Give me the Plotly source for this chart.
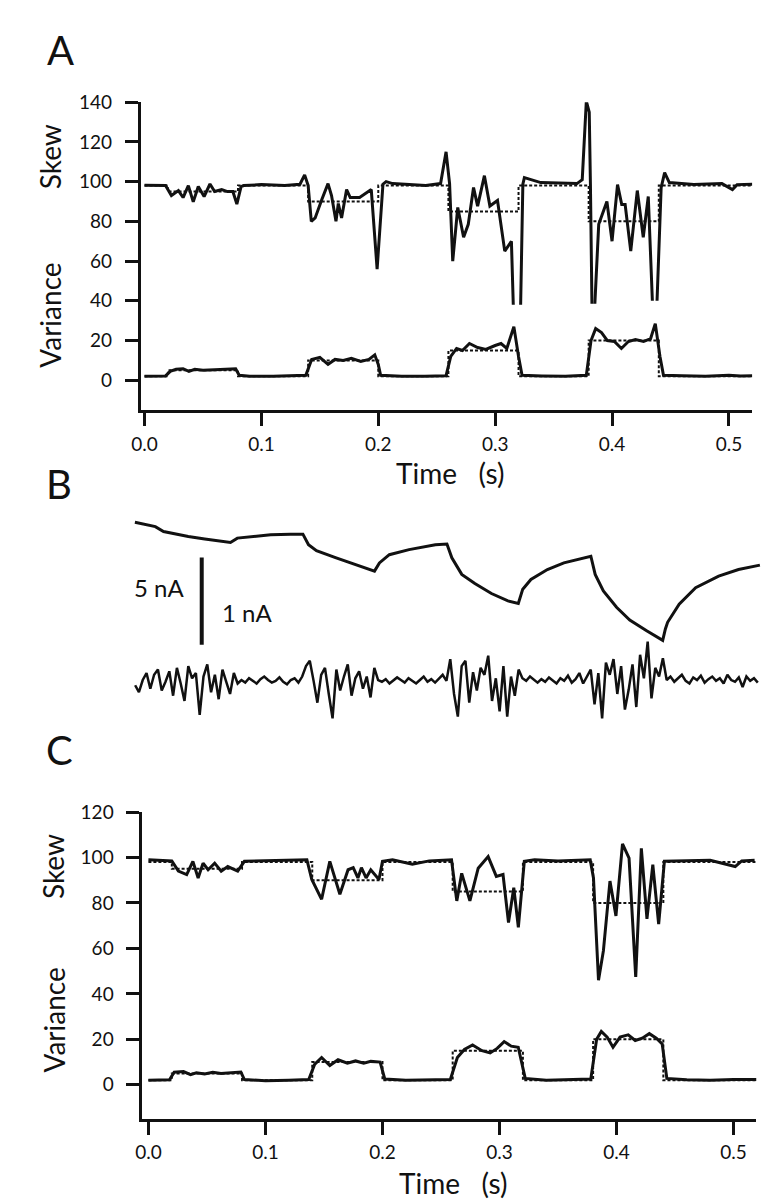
import plotly.graph_objects as go

# ---------------- data ----------------
# Panel A, skew (solid trace); None marks where the trace leaves the drawn range
a_skew_t = [0.0, 0.018, 0.023, 0.029, 0.033, 0.0375, 0.0417, 0.046, 0.051, 0.056, 0.060, 0.066, 0.071,
            0.0756, 0.079, 0.0826, 0.085, 0.1, 0.12, 0.133, 0.137, 0.14, 0.1427, 0.146, 0.1517, 0.157,
            0.16, 0.1638, 0.1658, 0.1686, 0.1729, 0.176, 0.184, 0.194, 0.199, 0.204, 0.2067, 0.2123,
            0.2406, 0.2533, 0.258, 0.261, 0.2637, 0.268, 0.273, 0.277, 0.2815, 0.285, 0.2908, 0.2955,
            0.302, 0.3082, 0.3139, 0.3155, 0.3185, 0.3218, 0.3237, 0.325, 0.339, 0.37, 0.3745, 0.378,
            0.3805, 0.3815, 0.3828, 0.384, 0.3853, 0.3886, 0.3956, 0.40, 0.4047, 0.4083, 0.4112, 0.416,
            0.4216, 0.4267, 0.431, 0.4345, 0.4365, 0.4385, 0.442, 0.445, 0.449, 0.47, 0.494, 0.503,
            0.507, 0.52]
a_skew_v = [98.2, 98, 93, 95.5, 92, 98, 89.8, 97.5, 92.5, 98.8, 95, 96, 95,
            95, 88.7, 97.5, 98, 98.5, 98, 98.7, 103.4, 98, 80, 81.7, 91, 99,
            93, 80, 89, 81.7, 96, 92, 92, 96, 56, 98.7, 100, 99,
            98, 99, 115, 99, 60, 87, 72, 78.5, 97, 87.7, 103, 87.7,
            90.5, 65, 70, 38, None, 38, 98.7, 102, 99.5, 99, 101, 140.5,
            135, 98.7, 38.5, None, 38.5, 78.5, 90, 70, 98.5, 88.5, 88.5, 65,
            95.5, 72, 92.5, 40, None, 40, 97, 104.5, 99.5, 98.5, 99, 96,
            98.5, 98.7]

# Panel A, variance (solid trace)
a_var_t = [0.0, 0.018, 0.022, 0.027, 0.033, 0.038, 0.043, 0.05, 0.06, 0.07, 0.078, 0.081, 0.09, 0.11,
           0.13, 0.138, 0.143, 0.15, 0.157, 0.163, 0.17, 0.177, 0.185, 0.192, 0.197, 0.2, 0.202, 0.22,
           0.24, 0.258, 0.262, 0.267, 0.272, 0.278, 0.285, 0.292, 0.3, 0.305, 0.31, 0.316, 0.32, 0.323,
           0.34, 0.36, 0.378, 0.382, 0.386, 0.391, 0.396, 0.402, 0.408, 0.414, 0.42, 0.427, 0.433,
           0.437, 0.441, 0.444, 0.46, 0.48, 0.5, 0.51, 0.52]
a_var_v = [2.0, 2.2, 4.5, 5.5, 5.8, 4.5, 5.5, 5.0, 5.3, 5.5, 5.8, 2.5, 2.0, 2.0,
           2.2, 2.5, 10.5, 11.5, 8.0, 10.5, 10.0, 11.0, 9.5, 10.5, 12.8, 8.0, 2.5, 2.0,
           2.0, 2.3, 12.0, 16.0, 15.0, 18.5, 16.5, 15.5, 17.5, 18.5, 16.0, 27.0, 12.0, 2.5,
           2.2, 2.0, 2.5, 20.0, 26.0, 24.0, 20.0, 19.5, 16.0, 19.5, 20.5, 19.5, 21.0,
           28.5, 12.0, 2.5, 2.3, 2.0, 2.5, 2.2, 2.3]

# Stimulus targets (dashed step lines), shared by A and C
step_t = [0.0, 0.02, 0.08, 0.14, 0.2, 0.26, 0.32, 0.38, 0.44, 0.52]
skew_target = [98, 95, 98, 90, 98, 85, 98, 80, 98, 98]
var_target = [2, 5, 2, 10, 2, 15, 2, 20, 2, 2]

# Panel C, skew
c_skew_t = [0.0, 0.02, 0.0256, 0.0327, 0.038, 0.0425, 0.0467, 0.051, 0.0566, 0.0622, 0.0678, 0.0763,
            0.082, 0.1, 0.12, 0.1354, 0.1396, 0.148, 0.155, 0.1636, 0.1706, 0.175, 0.179, 0.182, 0.186,
            0.19, 0.197, 0.2, 0.2086, 0.2255, 0.24, 0.259, 0.2635, 0.2677, 0.2747, 0.2818, 0.2903,
            0.2973, 0.303, 0.3077, 0.3122, 0.3161, 0.3212, 0.33, 0.35, 0.3775, 0.3803, 0.3846, 0.3888,
            0.3944, 0.3995, 0.4051, 0.4107, 0.4164, 0.4212, 0.426, 0.431, 0.436, 0.4409, 0.46, 0.48,
            0.5014, 0.507, 0.518]
c_skew_v = [99, 98.5, 94, 92.5, 98.3, 91, 97.5, 94.6, 97.5, 94, 96, 94,
            98.3, 98.5, 98.8, 99, 90.3, 81.6, 98.3, 83.8, 94.6, 95.5, 91, 95.5, 91,
            94.6, 90.3, 98.3, 99, 97, 98.5, 99, 80.9, 93, 80.9, 95.3, 100.4,
            91.7, 92.5, 71.4, 86.7, 69.3, 98.3, 99, 98.5, 99, 91, 46, 59,
            89.6, 74.3, 106, 99.7, 47.5, 104, 73, 96.8, 70.7, 98.3, 98.5, 98.8,
            96, 98.5, 98.8]

# Panel C, variance
c_var_t = [0.0, 0.018, 0.022, 0.03, 0.036, 0.041, 0.048, 0.055, 0.062, 0.07, 0.079, 0.082, 0.1, 0.12,
           0.137, 0.142, 0.148, 0.155, 0.162, 0.17, 0.177, 0.184, 0.19, 0.198, 0.202, 0.22, 0.24, 0.258,
           0.264, 0.27, 0.277, 0.285, 0.292, 0.298, 0.304, 0.31, 0.316, 0.322, 0.34, 0.36, 0.378,
           0.383, 0.387, 0.392, 0.397, 0.403, 0.41, 0.416, 0.422, 0.428, 0.434, 0.439, 0.443, 0.46,
           0.48, 0.5, 0.52]
c_var_v = [2.0, 2.2, 5.5, 5.8, 4.5, 5.3, 4.8, 5.5, 5.0, 5.3, 5.6, 2.3, 1.8, 2.0,
           2.3, 9.0, 12.0, 8.5, 11.0, 9.5, 10.5, 9.5, 10.3, 10.0, 2.5, 2.0, 2.2, 2.3,
           12.0, 15.5, 17.5, 15.0, 14.0, 16.0, 19.0, 17.0, 16.5, 2.8, 2.0, 2.2, 2.5,
           20.0, 23.5, 21.0, 16.5, 21.0, 22.0, 19.5, 20.5, 22.5, 20.5, 18.0, 2.8, 2.2,
           2.0, 2.3, 2.3]

# Panel B, membrane current (nA, relative) and injected noise (nA)
b_cur_t = [-0.0082, 0.0093, 0.0163, 0.0375, 0.0516, 0.0657, 0.0736, 0.0795, 0.0939, 0.108, 0.125,
           0.1356, 0.1404, 0.1472, 0.1641, 0.1785, 0.1926, 0.1969, 0.2011, 0.2096, 0.2265, 0.249,
           0.2589, 0.2631, 0.2716, 0.2828, 0.297, 0.3111, 0.32, 0.3238, 0.3308, 0.3449, 0.359,
           0.3821, 0.3858, 0.3928, 0.4041, 0.4154, 0.4295, 0.4436, 0.4459, 0.4478, 0.4577, 0.4718,
           0.4915, 0.5085, 0.5268]
b_cur_v = [-0.02, -0.27, -0.55, -0.84, -0.98, -1.12, -1.18, -0.93, -0.84, -0.74, -0.70,
           -0.70, -1.31, -1.65, -2.06, -2.40, -2.73, -2.82, -2.35, -1.88, -1.59, -1.31,
           -1.27, -2.06, -3.01, -3.54, -4.11, -4.53, -4.68, -3.86, -3.30, -2.73, -2.35,
           -1.97, -3.01, -3.96, -4.90, -5.63, -6.23, -6.80, -6.14, -5.76, -4.72, -3.77,
           -3.11, -2.73, -2.48]

noise_t0 = -0.008
noise_dt = 0.00325
noise_v = [0.00, -0.08, 0.06, 0.14, -0.04, 0.12, 0.18, -0.06, 0.04, 0.16,
           -0.12, 0.20, 0.02, -0.18, 0.22, 0.08, 0.14, -0.34, 0.10, 0.24,
           -0.08, 0.12, -0.16, 0.18, 0.04, -0.10, 0.14, 0.02, 0.06, 0.03,
           0.08, 0.05, 0.02, 0.07, 0.10, 0.06, 0.03, 0.05, 0.09, 0.04,
           0.01, 0.06, 0.08, 0.03, 0.10, 0.22, 0.28, 0.05, -0.20, 0.12,
           0.20, -0.10, -0.38, 0.18, -0.06, 0.10, 0.24, -0.12, 0.08, 0.16,
           -0.04, 0.10, -0.14, 0.20, 0.06, 0.04, 0.07, 0.02, 0.05, 0.09,
           0.06, 0.03, 0.08, 0.05, 0.02, 0.06, 0.10, 0.04, 0.07, 0.03,
           0.08, 0.12, 0.05, 0.30, -0.10, -0.36, 0.22, 0.28, -0.20, 0.15,
           -0.06, 0.20, 0.12, 0.34, -0.18, 0.08, -0.30, 0.22, -0.36, 0.10,
           -0.12, 0.18, 0.08, 0.05, 0.10, 0.06, 0.03, 0.07, 0.04, 0.09,
           0.06, 0.02, 0.08, 0.05, 0.11, 0.03, 0.07, 0.14, 0.02, 0.10,
           0.18, -0.22, 0.14, -0.38, 0.26, 0.12, 0.30, -0.10, 0.22, -0.28,
           -0.05, 0.24, -0.25, 0.35, 0.08, 0.50, -0.15, 0.20, 0.10, 0.31,
           0.06, 0.10, 0.04, 0.08, 0.12, 0.05, 0.02, 0.09, 0.06, 0.11,
           0.03, 0.07, 0.10, 0.05, 0.08, 0.02, 0.12, 0.06, 0.04, 0.09,
           -0.02, 0.10, 0.05, 0.08, 0.03]
noise_t = [noise_t0 + i * noise_dt for i in range(len(noise_v))]

# scale bar (drawn in noise units: 1 nA; 5 nA for the current trace)
scalebar_t = [0.049, 0.049]
scalebar_nA = [0.466, 1.466]

# axis ticks
time_ticks = [0.0, 0.1, 0.2, 0.3, 0.4, 0.5]
time_labels = ["0.0", "0.1", "0.2", "0.3", "0.4", "0.5"]
a_yticks = [0, 20, 40, 60, 80, 100, 120, 140]
c_yticks = [0, 20, 40, 60, 80, 100, 120]

# ---------------- layout helpers ----------------
W, H = 770, 1200
FONT = "Lato, 'Open Sans', sans-serif"
INK = "#111111"


def dx(a, b):
    return [a / W, b / W]


def dy(top, bottom):
    return [1 - bottom / H, 1 - top / H]


fig = go.Figure()

solid = dict(color=INK, width=3)
dotted = dict(color=INK, width=2, dash="3px,2px", shape="hv")

# Panel A
fig.add_trace(go.Scatter(x=step_t, y=skew_target, mode="lines", line=dotted, xaxis="x", yaxis="y"))
fig.add_trace(go.Scatter(x=step_t, y=var_target, mode="lines", line=dotted, xaxis="x", yaxis="y"))
fig.add_trace(go.Scatter(x=a_skew_t, y=a_skew_v, mode="lines", line=solid, connectgaps=False,
                         xaxis="x", yaxis="y"))
fig.add_trace(go.Scatter(x=a_var_t, y=a_var_v, mode="lines", line=solid, xaxis="x", yaxis="y"))

# Panel B
fig.add_trace(go.Scatter(x=b_cur_t, y=b_cur_v, mode="lines", line=dict(color=INK, width=3),
                         xaxis="x2", yaxis="y2"))
fig.add_trace(go.Scatter(x=noise_t, y=noise_v, mode="lines", line=dict(color=INK, width=2.5),
                         xaxis="x2", yaxis="y4"))
fig.add_trace(go.Scatter(x=scalebar_t, y=scalebar_nA, mode="lines", line=dict(color=INK, width=4),
                         xaxis="x2", yaxis="y4"))

# Panel C
fig.add_trace(go.Scatter(x=step_t, y=skew_target, mode="lines", line=dotted, xaxis="x3", yaxis="y3"))
fig.add_trace(go.Scatter(x=step_t, y=var_target, mode="lines", line=dotted, xaxis="x3", yaxis="y3"))
fig.add_trace(go.Scatter(x=c_skew_t, y=c_skew_v, mode="lines", line=solid, xaxis="x3", yaxis="y3"))
fig.add_trace(go.Scatter(x=c_var_t, y=c_var_v, mode="lines", line=solid, xaxis="x3", yaxis="y3"))

tickfont = dict(family=FONT, size=19, color=INK)
axis_common = dict(showline=True, linecolor=INK, linewidth=2.5, ticks="outside", ticklen=13,
                   tickwidth=2.5, tickcolor=INK, showgrid=False, zeroline=False, tickfont=tickfont)

fig.update_layout(
    width=W, height=H, margin=dict(l=0, r=0, t=0, b=0),
    paper_bgcolor="white", plot_bgcolor="white", showlegend=False,
    xaxis=dict(domain=dx(125, 744), range=[-0.0034, 0.52], tickvals=time_ticks, ticktext=time_labels,
               anchor="y", ticklabelstandoff=2, **axis_common),
    yaxis=dict(domain=dy(83, 394), range=[-15, 140], tickvals=a_yticks, anchor="x",
               ticklabelstandoff=9, **axis_common),
    xaxis2=dict(domain=dx(110, 760), range=[-0.01607, 0.53384], visible=False, anchor="y2"),
    yaxis2=dict(domain=dy(495, 715), range=[-11.82, 0.682], visible=False, anchor="x2"),
    yaxis4=dict(domain=dy(495, 715), range=[-0.489, 2.011], visible=False, anchor="x2",
                overlaying="y2"),
    xaxis3=dict(domain=dx(126.7, 748), range=[-0.0053, 0.5194], tickvals=time_ticks,
                ticktext=time_labels, anchor="y3", ticklabelstandoff=2, **axis_common),
    yaxis3=dict(domain=dy(800, 1110), range=[-15, 120], tickvals=c_yticks, anchor="x3",
                ticklabelstandoff=9, **axis_common),
)


def label(text, x, y, size, angle=0):
    fig.add_annotation(text=text, x=x / W, y=1 - y / H, xref="paper", yref="paper",
                       xanchor="center", yanchor="middle", showarrow=False, textangle=angle,
                       font=dict(family=FONT, size=size, color=INK))


nb = "\u00a0"
label("A", 44, 30, 40)
label("B", 43, 469, 40)
label("C", 43, 737, 40)
label("Skew", 33, 138, 28, -90)
label("Variance", 33, 298, 28, -90)
label("Skew", 37, 855, 28, -90)
label("Variance", 37, 1010, 28, -90)
label("Time" + nb * 3 + "(s)", 438, 458, 28)
label("Time" + nb * 3 + "(s)", 441, 1175, 28)
label("5 nA", 144, 573, 24)
label("1 nA", 233, 598, 24)

fig.write_html("out.html")
